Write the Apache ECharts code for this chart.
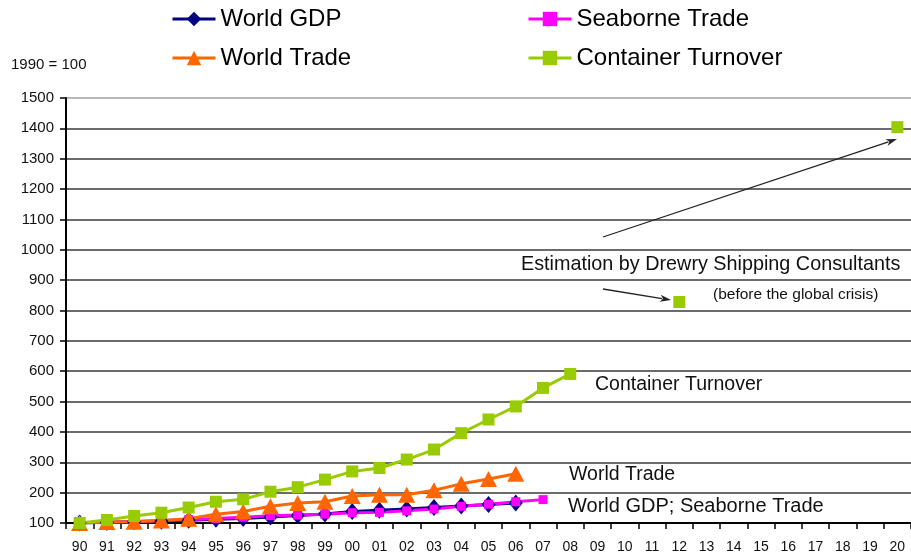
<!DOCTYPE html>
<html>
<head>
<meta charset="utf-8">
<script src="https://cdn.jsdelivr.net/npm/echarts@6/dist/echarts.min.js"></script>
<style>
html,body{margin:0;padding:0;background:#fff;}
#c{width:911px;height:558px;}
</style>
</head>
<body>
<div id="c"></div>
<script>
var years = ['90','91','92','93','94','95','96','97','98','99','00','01','02','03','04','05','06','07','08','09','10','11','12','13','14','15','16','17','18','19','20'];
var worldGDP = [100,102,104,106,109,112,115,120,125,130,138,142,146,151,156,161,166];
var seaborneTrade = [100,103,105,108,111,115,119,124,126,129,134,135,140,146,155,162,170,177];
var worldTrade = [100,103,104,108,114,129,138,155,166,170,189,193,193,208,229,245,262];
var containerTurnover = [100,110,123,134,151,170,178,203,218,243,270,281,309,342,396,441,484,545,591,null,null,null,828,null,null,null,null,null,null,null,1404];
var yTicks = {min:100, max:1500, interval:100};

var FONT = "'Liberation Sans', Arial, sans-serif";

function arrow(x1,y1,x2,y2){
  var dx=x2-x1, dy=y2-y1, L=Math.sqrt(dx*dx+dy*dy);
  var ux=dx/L, uy=dy/L, len=11, hw=3.5;
  var bx=x2-ux*len, by=y2-uy*len;
  return [
    {type:'line', shape:{x1:x1,y1:y1,x2:bx+ux*2,y2:by+uy*2}, style:{stroke:'#222', lineWidth:1.3}, z:10},
    {type:'polygon', shape:{points:[[x2,y2],[bx-uy*hw,by+ux*hw],[bx+ux*3,by+uy*3],[bx+uy*hw,by-ux*hw]]}, style:{fill:'#222'}, z:10}
  ];
}
function txt(s,x,y,size){
  return {type:'text', left:x, top:y-size*0.6, style:{text:s, font:size+'px '+FONT, fill:'#111'}, z:10};
}

var splitColors = [];
for (var i=0;i<14;i++) splitColors.push('#3a3a3a');
splitColors.push('#a0a0a0');

var chart = echarts.init(document.getElementById('c'), null, {renderer:'canvas'});
var graphics = [
  txt('1990 = 100', 11, 66, 15),
  txt('Container Turnover', 595, 386, 19.5),
  txt('World Trade', 569, 476, 19.5),
  txt('World GDP; Seaborne Trade', 568, 508, 20),
  txt('Estimation by Drewry Shipping Consultants', 521, 266, 19.8),
  txt('(before the global crisis)', 713, 296, 15.5)
].concat(arrow(603,237,897,139)).concat(arrow(603,289,671,300));

var legendCommon = {orient:'vertical', top:1, itemWidth:43, itemHeight:18, itemGap:13, selectedMode:false,
  lineStyle:{width:3}, textStyle:{fontSize:24, lineHeight:26, color:'#000', fontFamily:FONT}};

chart.setOption({
  animation:false,
  backgroundColor:'#fff',
  textStyle:{fontFamily:FONT},
  grid:{left:66, top:98, width:852.5, height:425, containLabel:false},
  legend:[
    Object.assign({data:['World GDP','World Trade'], left:166}, legendCommon),
    Object.assign({data:['Seaborne Trade','Container Turnover'], left:522}, legendCommon)
  ],
  xAxis:{
    type:'category', data:years, boundaryGap:true,
    axisLine:{lineStyle:{color:'#000', width:2}},
    axisTick:{show:true, length:6, lineStyle:{color:'#000', width:1.5}},
    axisLabel:{fontSize:14, color:'#111', margin:17, interval:0}
  },
  yAxis:{
    type:'value', min:yTicks.min, max:yTicks.max, interval:yTicks.interval,
    axisLine:{show:true, lineStyle:{color:'#000', width:2}},
    axisTick:{show:true, length:6, lineStyle:{color:'#000', width:1.5}},
    axisLabel:{fontSize:15, color:'#111', margin:12, formatter:function(v){return String(v);}},
    splitLine:{lineStyle:{color:splitColors, width:1.5}}
  },
  series:[
    {name:'World GDP', type:'line', data:worldGDP, symbol:'diamond', symbolSize:[14,17], showAllSymbol:true,
     itemStyle:{color:'#000080'}, lineStyle:{color:'#000080', width:3}},
    {name:'Seaborne Trade', type:'line', data:seaborneTrade, symbol:'rect', symbolSize:9, showAllSymbol:true,
     itemStyle:{color:'#ff00ff'}, lineStyle:{color:'#ff00ff', width:3}},
    {name:'World Trade', type:'line', data:worldTrade, symbol:'triangle', symbolSize:[17,16], showAllSymbol:true,
     itemStyle:{color:'#ff6600'}, lineStyle:{color:'#ff6600', width:3}},
    {name:'Container Turnover', type:'line', data:containerTurnover, symbol:'rect', symbolSize:12, showAllSymbol:true, connectNulls:false,
     itemStyle:{color:'#99cc00'}, lineStyle:{color:'#99cc00', width:3}}
  ],
  graphic:graphics
});
</script>
</body>
</html>
